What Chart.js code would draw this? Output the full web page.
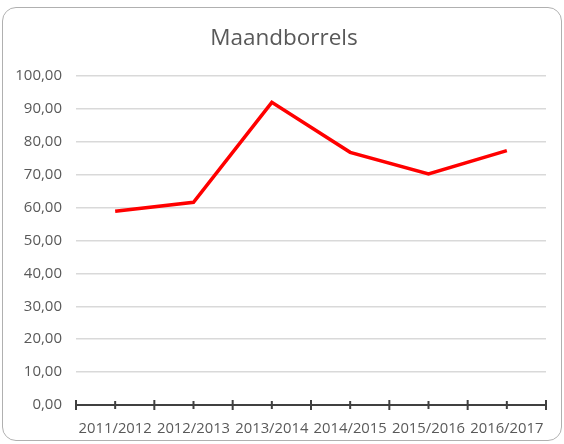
<!DOCTYPE html>
<html>
<head>
<meta charset="utf-8">
<script src="https://cdn.jsdelivr.net/npm/chart.js@4.4.1/dist/chart.umd.min.js"></script>
<style>
  html, body { margin: 0; padding: 0; background: #ffffff; }
  #wrap { position: relative; width: 564px; height: 444px; }
  #frame { position: absolute; left: 2px; top: 7px; width: 560px; height: 434px; box-sizing: border-box;
           border: 1.5px solid #b0b0b0; border-radius: 14px; pointer-events: none; }
  canvas { position: absolute; left: 0; top: 0; }
</style>
</head>
<body>
<div id="wrap">
  <canvas id="c" width="564" height="444"></canvas>
  <div id="frame"></div>
</div>
<script>
const categories = ["2011/2012", "2012/2013", "2013/2014", "2014/2015", "2015/2016", "2016/2017"];
const values = [58.9, 61.6, 92.0, 76.8, 70.2, 77.3];
const chartTitle = "Maandborrels";
const yMin = 0, yMax = 100, yStep = 10;

const fontFamily = "'Open Sans', 'Liberation Sans', sans-serif";
const textColor = "#595959";

const crossTicks = {
  id: 'crossTicks',
  afterDatasetsDraw(chart) {
    const x = chart.scales.x, y = chart.scales.y;
    const ctx = chart.ctx;
    const y0 = y.getPixelForValue(0);
    const n = categories.length;
    const half = (x.getPixelForValue(1) - x.getPixelForValue(0)) / 2;
    ctx.save();
    ctx.strokeStyle = "#404040";
    ctx.lineWidth = 2;
    ctx.beginPath();
    ctx.moveTo(chart.chartArea.left, y0);
    ctx.lineTo(chart.chartArea.right, y0);
    ctx.stroke();
    for (let i = 0; i < n; i++) {
      const c = x.getPixelForValue(i);
      ctx.beginPath(); ctx.moveTo(c - half, y0 - 5); ctx.lineTo(c - half, y0 + 5); ctx.stroke();
      ctx.beginPath(); ctx.moveTo(c, y0 - 4); ctx.lineTo(c, y0 + 4); ctx.stroke();
      if (i === n - 1) {
        ctx.beginPath(); ctx.moveTo(c + half, y0 - 5); ctx.lineTo(c + half, y0 + 5); ctx.stroke();
      }
    }
    ctx.restore();
  }
};

new Chart(document.getElementById('c'), {
  type: 'line',
  data: {
    labels: categories,
    datasets: [{
      data: values,
      borderColor: '#ff0000',
      borderWidth: 3.5,
      pointRadius: 0,
      pointHoverRadius: 0,
      tension: 0,
      fill: false
    }]
  },
  options: {
    responsive: false,
    animation: false,
    events: [],
    layout: { padding: { left: 4, right: 0, top: 0, bottom: 0 } },
    plugins: {
      legend: { display: false },
      tooltip: { enabled: false },
      title: {
        display: true,
        text: chartTitle,
        color: textColor,
        font: { family: fontFamily, size: 22.5, weight: 'normal', lineHeight: 1.2 },
        padding: { top: 25, bottom: 24 }
      }
    },
    scales: {
      x: {
        type: 'category',
        offset: true,
        grid: { display: false, drawTicks: false },
        border: { display: false },
        ticks: {
          color: textColor,
          font: { family: fontFamily, size: 14.8 },
          padding: 15,
          maxRotation: 0,
          autoSkip: false
        },
        afterFit(scale) { scale.height = 39; }
      },
      y: {
        min: yMin,
        max: yMax,
        grid: { color: '#d9d9d9', lineWidth: 1.5, drawTicks: false },
        border: { display: false },
        ticks: {
          stepSize: yStep,
          color: textColor,
          font: { family: fontFamily, size: 15 },
          padding: 14,
          callback: v => v.toFixed(2).replace('.', ',')
        },
        afterFit(scale) { scale.width = 72; }
      },
      yRightSpacer: {
        type: 'linear',
        position: 'right',
        display: true,
        grid: { display: false, drawTicks: false },
        border: { display: false },
        ticks: { display: false },
        afterFit(scale) { scale.width = 18; }
      }
    }
  },
  plugins: [crossTicks]
});
</script>
</body>
</html>
